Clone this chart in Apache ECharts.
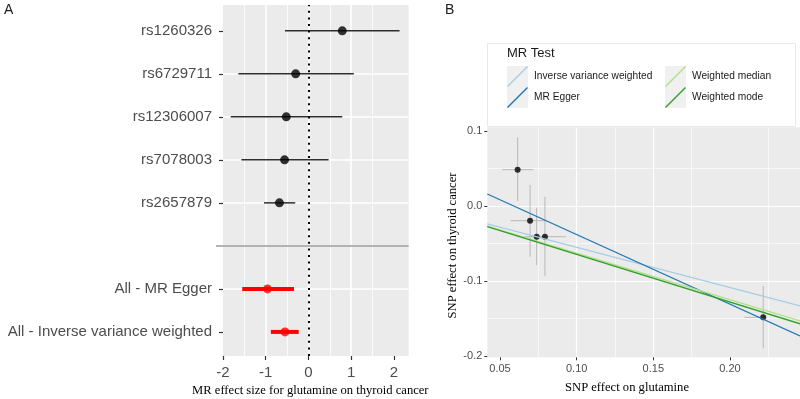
<!DOCTYPE html>
<html><head><meta charset="utf-8">
<script src="https://cdn.jsdelivr.net/npm/echarts@6/dist/echarts.min.js"></script>
<style>html,body{margin:0;padding:0;background:#fff}#c{width:800px;height:399px}</style>
</head><body><div id="c"></div>
<script>
// ---------- Panel A data (forest plot) ----------
const snpNames = ['rs1260326', 'rs6729711', 'rs12306007', 'rs7078003', 'rs2657879'];
const snpBeta = [0.79, -0.30, -0.52, -0.56, -0.68];
const snpLo = [-0.55, -1.64, -1.82, -1.57, -1.04];
const snpHi = [2.13, 1.06, 0.79, 0.47, -0.31];
const methodNames = ['All - MR Egger', 'All - Inverse variance weighted'];
const methodBeta = [-0.96, -0.55];
const methodLo = [-1.55, -0.88];
const methodHi = [-0.34, -0.23];
const forestTicks = [-2, -1, 0, 1, 2];

// ---------- Panel B data (scatter) ----------
const gluEffect = [0.0615, 0.0696, 0.0739, 0.0793, 0.2217];
const gluLo = [0.0515, 0.0570, 0.0705, 0.0660, 0.2093];
const gluHi = [0.0717, 0.0805, 0.0775, 0.0930, 0.2225];
const thyEffect = [0.0484, -0.0196, -0.0409, -0.0409, -0.1484];
const thyLo = [0.0067, -0.0676, -0.0787, -0.0933, -0.1897];
const thyHi = [0.0916, 0.0280, -0.0023, 0.0124, -0.1067];
const ivwLine = [[0.0417, -0.0240], [0.2457, -0.1333]];
const eggerLine = [[0.0417, 0.0160], [0.2457, -0.1733]];
const medianLine = [[0.0417, -0.0267], [0.2457, -0.1533]];
const modeLine = [[0.0417, -0.0276], [0.2457, -0.1570]];
const bxTicks = [0.05, 0.10, 0.15, 0.20];
const byTicks = [-0.2, -0.1, 0.0, 0.1];

// row positions (layout): SNPs on top, gap row, then methods
const nRows = snpNames.length + 1 + methodNames.length;
const snpRow = snpNames.map((_, i) => nRows - i);
const sepRow = nRows - snpNames.length;
const methodRow = methodNames.map((_, j) => sepRow - 1 - j);
const rowLabel = {};
snpNames.forEach((n, i) => rowLabel[snpRow[i]] = n);
methodNames.forEach((n, j) => rowLabel[methodRow[j]] = n);
const allRows = [];
for (let r = 1; r <= nRows; r++) allRows.push(r);
const labelRows = allRows.filter(r => r !== sepRow);

const chart = echarts.init(document.getElementById('c'), null, {renderer: 'canvas'});

function hbar(color, width) {
  return function (params, api) {
    const a = api.coord([api.value(0), api.value(2)]);
    const b = api.coord([api.value(1), api.value(2)]);
    return {type: 'line', shape: {x1: a[0], y1: a[1], x2: b[0], y2: b[1]},
      style: {stroke: color, lineWidth: width}};
  };
}
function vbar(color, width) {
  return function (params, api) {
    const a = api.coord([api.value(0), api.value(1)]);
    const b = api.coord([api.value(0), api.value(2)]);
    return {type: 'line', shape: {x1: a[0], y1: a[1], x2: b[0], y2: b[1]},
      style: {stroke: color, lineWidth: width}};
  };
}

const sans = 'Liberation Sans';
const grey30 = '#4d4d4d';
const white = '#ffffff';

const option = {
  animation: false,
  backgroundColor: '#ffffff',
  grid: [
    {left: 223, top: 5, width: 185.7, height: 351, show: true, backgroundColor: '#ebebeb', borderWidth: 0},
    {left: 487.3, top: 127.3, width: 312.7, height: 230, show: true, backgroundColor: '#ebebeb', borderWidth: 0}
  ],
  xAxis: [
    {gridIndex: 0, type: 'value', min: -2, max: 2.344, splitNumber: 4, position: 'bottom',
      axisLine: {show: false, onZero: false},
      axisTick: {show: true, length: 4, customValues: forestTicks, lineStyle: {color: '#333333', width: 1.2}},
      axisLabel: {customValues: forestTicks, formatter: v => String(v), fontSize: 15, color: grey30, margin: 9, fontFamily: sans},
      splitLine: {show: true, showMinLine: false, showMaxLine: false, lineStyle: {color: white, width: 1.6}},
      minorTick: {show: false, splitNumber: 2},
      minorSplitLine: {show: true, lineStyle: {color: white, width: 0.8}}},
    {gridIndex: 1, type: 'value', min: 0.0417, max: 0.2457, splitNumber: 4, position: 'bottom',
      axisLine: {show: false, onZero: false},
      axisTick: {show: true, length: 3, customValues: bxTicks, lineStyle: {color: '#333333', width: 1}},
      axisLabel: {customValues: bxTicks, formatter: v => v.toFixed(2), fontSize: 11, color: grey30, margin: 6, fontFamily: sans},
      splitLine: {show: true, showMinLine: false, showMaxLine: false, lineStyle: {color: white, width: 1.2}},
      minorTick: {show: false, splitNumber: 2},
      minorSplitLine: {show: true, lineStyle: {color: white, width: 0.6}}}
  ],
  yAxis: [
    {gridIndex: 0, type: 'value', min: 0.44, max: 8.6, splitNumber: 8, position: 'left',
      axisLine: {show: false, onZero: false},
      axisTick: {show: true, length: 4, customValues: labelRows, lineStyle: {color: '#333333', width: 1.2}},
      axisLabel: {customValues: labelRows, formatter: v => rowLabel[Math.round(v)] || '', fontSize: 15, color: grey30, margin: 11, fontFamily: sans},
      splitLine: {show: true, showMinLine: false, showMaxLine: false, lineStyle: {color: white, width: 1.6}}},
    {gridIndex: 1, type: 'value', min: -0.2017, max: 0.1049, splitNumber: 3, position: 'left',
      axisLine: {show: false, onZero: false},
      axisTick: {show: true, length: 3, customValues: byTicks, lineStyle: {color: '#333333', width: 1}},
      axisLabel: {customValues: byTicks, formatter: v => v.toFixed(1), fontSize: 11, color: grey30, margin: 5, fontFamily: sans},
      splitLine: {show: true, showMinLine: false, showMaxLine: false, lineStyle: {color: white, width: 1.2}},
      minorTick: {show: false, splitNumber: 2},
      minorSplitLine: {show: true, lineStyle: {color: white, width: 0.6}}},
    // separator tick (grey) for panel A
    {gridIndex: 0, type: 'value', min: 0.44, max: 8.6, splitNumber: 8, position: 'left', offset: 0,
      axisLine: {show: false, onZero: false},
      axisTick: {show: true, length: 7, customValues: [sepRow], lineStyle: {color: '#b3b3b3', width: 2}},
      axisLabel: {show: false},
      splitLine: {show: false}}
  ],
  legend: [
    {data: ['Inverse variance weighted', 'MR Egger'], orient: 'vertical', left: 507, top: 66,
      itemWidth: 21, itemHeight: 21, itemGap: 0, padding: 0, selectedMode: false,
      icon: 'path://M0,20 L20,0 L21,1 L1,21 Z',
      textStyle: {fontSize: 10.2, color: '#1a1a1a', fontFamily: sans, padding: [0, 0, 0, 1]}},
    {data: ['Weighted median', 'Weighted mode'], orient: 'vertical', left: 665, top: 66,
      itemWidth: 21, itemHeight: 21, itemGap: 0, padding: 0, selectedMode: false,
      icon: 'path://M0,20 L20,0 L21,1 L1,21 Z',
      textStyle: {fontSize: 10.2, color: '#1a1a1a', fontFamily: sans, padding: [0, 0, 0, 1]}}
  ],
  graphic: [
    {type: 'rect', z: 0, shape: {x: 487.5, y: 43.5, width: 308, height: 83}, style: {fill: '#ffffff', stroke: '#e8e8e8', lineWidth: 1}},
    {type: 'rect', z: 1, shape: {x: 507, y: 66, width: 21, height: 21}, style: {fill: '#f0f0f0'}},
    {type: 'rect', z: 1, shape: {x: 507, y: 87, width: 21, height: 21}, style: {fill: '#f0f0f0'}},
    {type: 'rect', z: 1, shape: {x: 665, y: 66, width: 21, height: 21}, style: {fill: '#f0f0f0'}},
    {type: 'rect', z: 1, shape: {x: 665, y: 87, width: 21, height: 21}, style: {fill: '#f0f0f0'}},
    {type: 'text', z: 5, x: 507, y: 53, style: {text: 'MR Test', font: '13px "Liberation Sans"', fill: '#1a1a1a', align: 'left', verticalAlign: 'middle', textAlign: 'left', textVerticalAlign: 'middle'}},
    {type: 'text', z: 5, x: 4, y: 10, style: {text: 'A', font: '14px "Liberation Sans"', fill: '#1a1a1a', align: 'left', verticalAlign: 'middle', textAlign: 'left', textVerticalAlign: 'middle'}},
    {type: 'text', z: 5, x: 445, y: 10, style: {text: 'B', font: '14px "Liberation Sans"', fill: '#1a1a1a', align: 'left', verticalAlign: 'middle', textAlign: 'left', textVerticalAlign: 'middle'}},
    {type: 'text', z: 5, x: 310.3, y: 391, style: {text: 'MR effect size for glutamine on thyroid cancer', font: '12.6px "Liberation Serif"', fill: '#000000', align: 'center', verticalAlign: 'middle', textAlign: 'center', textVerticalAlign: 'middle'}},
    {type: 'text', z: 5, x: 627, y: 388, style: {text: 'SNP effect on glutamine', font: '12.6px "Liberation Serif"', fill: '#000000', align: 'center', verticalAlign: 'middle', textAlign: 'center', textVerticalAlign: 'middle'}},
    {type: 'text', z: 5, x: 453, y: 245.5, rotation: Math.PI / 2, style: {text: 'SNP effect on thyroid cancer', font: '12.6px "Liberation Serif"', fill: '#000000', align: 'center', verticalAlign: 'middle', textAlign: 'center', textVerticalAlign: 'middle'}}
  ],
  series: [
    // Panel A
    {type: 'custom', name: 'snpCI', xAxisIndex: 0, yAxisIndex: 0, z: 2,
      renderItem: hbar('#2e2e2e', 1.5),
      data: snpLo.map((lo, i) => [lo, snpHi[i], snpRow[i]])},
    {type: 'custom', name: 'methodCI', xAxisIndex: 0, yAxisIndex: 0, z: 2,
      renderItem: hbar('#ff0000', 4),
      data: methodLo.map((lo, j) => [lo, methodHi[j], methodRow[j]])},
    {type: 'scatter', name: 'snpPt', xAxisIndex: 0, yAxisIndex: 0, z: 3, symbolSize: 9,
      itemStyle: {color: '#000000'},
      data: snpBeta.map((b, i) => [b, snpRow[i]]),
      markLine: {silent: true, symbol: ['none', 'none'], label: {show: false}, z: 4,
        data: [
          {xAxis: 0, lineStyle: {color: '#000000', width: 2, type: [2, 4.6]}},
          {yAxis: sepRow, lineStyle: {color: '#b3b3b3', width: 2, type: 'solid'}}
        ]}},
    {type: 'scatter', name: 'methodPt', xAxisIndex: 0, yAxisIndex: 0, z: 3, symbolSize: 9,
      itemStyle: {color: '#ff0000'},
      data: methodBeta.map((b, j) => [b, methodRow[j]])},
    // Panel B
    {type: 'custom', name: 'vErr', xAxisIndex: 1, yAxisIndex: 1, z: 2,
      renderItem: vbar('#b8b8b8', 1),
      data: gluEffect.map((x, i) => [x, thyLo[i], thyHi[i]])},
    {type: 'custom', name: 'hErr', xAxisIndex: 1, yAxisIndex: 1, z: 2,
      renderItem: hbar('#b8b8b8', 1),
      data: gluLo.map((lo, i) => [lo, gluHi[i], thyEffect[i]])},
    {type: 'scatter', name: 'bPt', xAxisIndex: 1, yAxisIndex: 1, z: 3, symbolSize: 6,
      itemStyle: {color: '#000000'},
      data: gluEffect.map((x, i) => [x, thyEffect[i]])},
    {type: 'line', name: 'Inverse variance weighted', xAxisIndex: 1, yAxisIndex: 1, z: 4, showSymbol: false, symbol: 'none',
      color: '#a6cee3', lineStyle: {color: '#a6cee3', width: 1.3}, data: ivwLine},
    {type: 'line', name: 'MR Egger', xAxisIndex: 1, yAxisIndex: 1, z: 4, showSymbol: false, symbol: 'none',
      color: '#1f78b4', lineStyle: {color: '#1f78b4', width: 1.3}, data: eggerLine},
    {type: 'line', name: 'Weighted median', xAxisIndex: 1, yAxisIndex: 1, z: 4, showSymbol: false, symbol: 'none',
      color: '#b2df8a', lineStyle: {color: '#b2df8a', width: 1.3}, data: medianLine},
    {type: 'line', name: 'Weighted mode', xAxisIndex: 1, yAxisIndex: 1, z: 4, showSymbol: false, symbol: 'none',
      color: '#33a02c', lineStyle: {color: '#33a02c', width: 1.3}, data: modeLine}
  ]
};
chart.setOption(option);
</script>
</body></html>
